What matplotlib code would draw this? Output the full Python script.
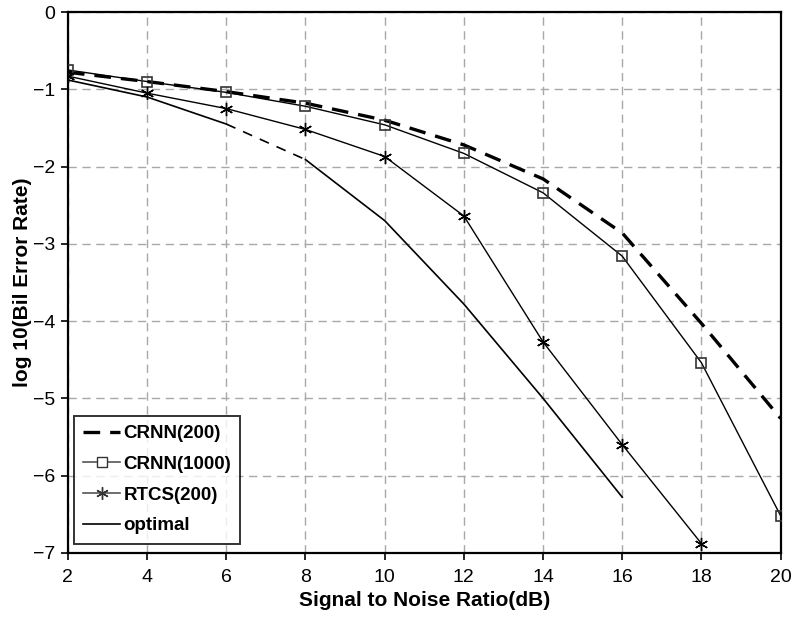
import matplotlib
matplotlib.use("Agg")
import matplotlib.pyplot as plt
from matplotlib.lines import Line2D

plt.rcParams['font.family'] = ['Liberation Sans', 'DejaVu Sans']

snr = [2, 4, 6, 8, 10, 12, 14, 16, 18, 20]
crnn200 = [-0.78, -0.90, -1.03, -1.18, -1.40, -1.72, -2.16, -2.86, -4.03, -5.26]
crnn1000 = [-0.75, -0.90, -1.04, -1.22, -1.46, -1.83, -2.34, -3.16, -4.54, -6.52]
rtcs_x = [2, 4, 6, 8, 10, 12, 14, 16, 18]
rtcs200 = [-0.83, -1.05, -1.25, -1.52, -1.87, -2.64, -4.27, -5.60, -6.88]
opt_x = [2, 4, 6, 8, 10, 12, 14, 16]
optimal = [-0.88, -1.10, -1.45, -1.91, -2.70, -3.78, -5.00, -6.28]

fig = plt.figure(figsize=(7.99, 6.17), dpi=100)
ax = fig.add_axes([0.085, 0.104, 0.892, 0.8765])

ax.plot(snr, crnn200, color='black', lw=2.4, ls=(0, (5, 3)), label='CRNN(200)', zorder=3)
ax.plot(snr, crnn1000, color='black', lw=1.0, marker='s', ms=7.5, mfc='none',
        mec='#333333', mew=1.2, label='CRNN(1000)', zorder=4)
ax.plot(rtcs_x, rtcs200, color='black', lw=1.0, marker=(6, 2, 0), ms=9.5,
        mew=1.0, label='RTCS(200)', zorder=4)
# optimal: solid, with a dashed stretch between 6 and 8
ax.plot(opt_x[:3], optimal[:3], color='black', lw=1.2, zorder=3)
ax.plot(opt_x[2:4], optimal[2:4], color='black', lw=1.2, ls=(0, (6, 5)), zorder=3)
ax.plot(opt_x[3:], optimal[3:], color='black', lw=1.2, zorder=3)

ax.set_xlim(2, 20)
ax.set_ylim(-7, 0)
ax.set_xticks(snr)
ax.set_yticks([0, -1, -2, -3, -4, -5, -6, -7])
ax.set_yticklabels(['0', '\u22121', '\u22122', '\u22123', '\u22124', '\u22125', '\u22126', '\u22127'])
ax.grid(True, color='#a8a8a8', ls=(0, (6, 4)), lw=1.0)
ax.set_axisbelow(True)
for s in ax.spines.values():
    s.set_linewidth(1.6)
    s.set_color('black')
ax.tick_params(direction='out', length=5, width=1.2, labelsize=14, pad=4)
ax.tick_params(axis='x', pad=7)

ax.set_xlabel('Signal to Noise Ratio(dB)', fontsize=15, fontweight='bold', labelpad=3)
ax.set_ylabel('log 10(Bil Error Rate)', fontsize=15, fontweight='bold', labelpad=1)

handles = [
    Line2D([], [], color='black', lw=2.4, ls=(0, (5, 3))),
    Line2D([], [], color='#555555', lw=1.2, marker='s', ms=7, mfc='white', mec='#333333'),
    Line2D([], [], color='#555555', lw=1.2, marker=(6, 2, 0), ms=9, mec='#333333'),
    Line2D([], [], color='black', lw=1.2),
]
labels = ['CRNN(200)', 'CRNN(1000)', 'RTCS(200)', 'optimal']
leg = ax.legend(handles, labels, loc='lower left', bbox_to_anchor=(0.008, 0.017),
                prop={'weight': 'bold', 'size': 13.5}, frameon=True, fancybox=False,
                edgecolor='black', handlelength=2.0, handletextpad=0.15,
                labelspacing=0.72, borderpad=0.5, borderaxespad=0)
leg.get_frame().set_linewidth(1.4)

fig.savefig('out.png', dpi=100)
